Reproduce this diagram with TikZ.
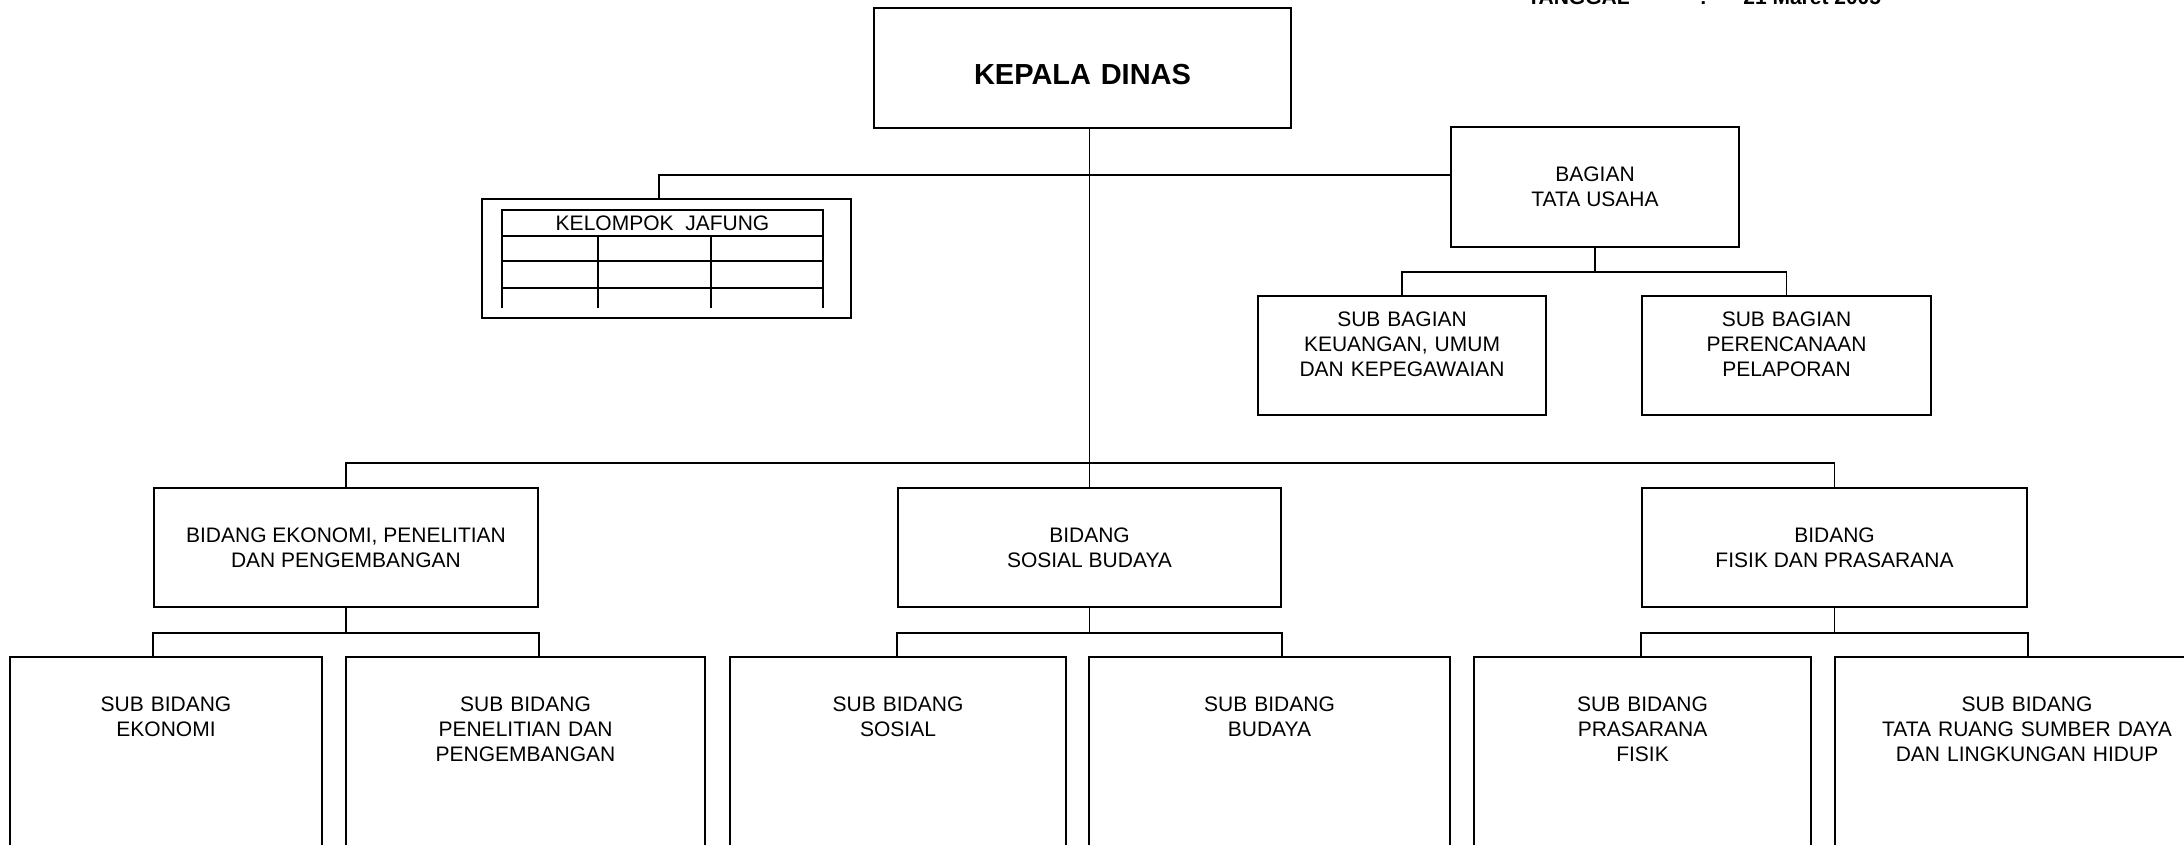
\documentclass[tikz,border=0pt]{standalone}
\usepackage{fontspec}
\setmainfont{Liberation Sans}
\usetikzlibrary{calc}
\tikzset{
  orgBox/.style={draw, line width=1.1pt, align=center, inner sep=2pt, minimum height=2.38cm, font=\fontsize{11.95}{14.2}\selectfont},
  orgTopBox/.style={draw, line width=1.1pt, align=center, anchor=north, inner xsep=0pt, inner ysep=0pt, font=\fontsize{11.95}{14.2}\selectfont},
  orgSubBox/.style={draw, line width=1.1pt, align=center, anchor=north, inner xsep=0pt, inner ysep=0pt, text height=1.1cm, text depth=4cm, font=\fontsize{11.95}{14.2}\selectfont},
  orgLine/.style={line width=1.1pt},
  orgText/.style={inner sep=0pt, font=\fontsize{11.95}{14.2}\selectfont}
}

\begin{document}
\begin{tikzpicture}
      \useasboundingbox (0,0) rectangle (43.68,-16.88);
      \node[orgText, font=\fontsize{11.95}{14.2}\selectfont\bfseries, anchor=base west] (tanggal) at (30.54,-0.08) {\makebox[3.45cm][l]{TANGGAL}:\hspace{0.73cm}21 Maret 2005};

      \node[orgTopBox, font=\fontsize{16.5}{19}\selectfont\bfseries, text width=8.34cm, text height=1.53cm, text depth=0.87cm] (kepala) at (21.65,-0.14) {KEPALA DINAS};
      \node[orgBox, minimum width=5.76cm, minimum height=2.4cm] (bagianTU) at (31.9,-3.74) {BAGIAN\\TATA USAHA};

      \node[orgBox, minimum width=7.38cm] (jafung) at (13.33,-5.17) {};
      \node[orgText] (jafungTitle) at (13.25,-4.46) {KELOMPOK\ \ JAFUNG};
      \draw[orgLine] (10.04,-6.16) |- (16.46,-4.2) -- (16.46,-6.16);
      \foreach \y in {-4.72,-5.22,-5.76}
        \draw[orgLine] (10.04,\y) -- (16.46,\y);
      \foreach \x in {11.96,14.22}
        \draw[orgLine] (\x,-4.72) -- (\x,-6.16);

      \node[orgTopBox, text width=5.76cm, text height=0.61cm, text depth=1.77cm] (subKeuangan) at (28.04,-5.9) {SUB BAGIAN\\KEUANGAN, UMUM\\DAN KEPEGAWAIAN};
      \node[orgTopBox, text width=5.78cm, text height=0.61cm, text depth=1.77cm] (subPerencanaan) at (35.73,-5.9) {SUB BAGIAN\\PERENCANAAN\\PELAPORAN};

      \node[orgBox, minimum width=7.68cm] (bidEkonomi) at (6.92,-10.95) {BIDANG EKONOMI, PENELITIAN\\DAN PENGEMBANGAN};
      \node[orgBox, minimum width=7.66cm] (bidSosial) at (21.79,-10.95) {BIDANG\\SOSIAL BUDAYA};
      \node[orgBox, minimum width=7.70cm] (bidFisik) at (36.69,-10.95) {BIDANG\\FISIK DAN PRASARANA};

      \node[orgSubBox, text width=6.24cm] (subEkonomi) at (3.32,-13.12) {SUB BIDANG\\EKONOMI};
      \node[orgSubBox, text width=7.18cm] (subPenelitian) at (10.51,-13.12) {SUB BIDANG\\PENELITIAN DAN\\PENGEMBANGAN};
      \node[orgSubBox, text width=6.72cm] (subSosial) at (17.96,-13.12) {SUB BIDANG\\SOSIAL};
      \node[orgSubBox, text width=7.22cm] (subBudaya) at (25.39,-13.12) {SUB BIDANG\\BUDAYA};
      \node[orgSubBox, text width=6.74cm] (subPrasarana) at (32.85,-13.12) {SUB BIDANG\\PRASARANA\\FISIK};
      \node[orgSubBox, text width=7.68cm] (subTataRuang) at (40.54,-13.12) {SUB BIDANG\\TATA RUANG SUMBER DAYA\\DAN LINGKUNGAN HIDUP};

      \coordinate (jafungJoint) at (21.82,-3.5);
      \coordinate (bidangJoint) at (21.82,-9.26);
      \draw[orgLine] (kepala.south -| bidSosial.north) -- (bidSosial.north);
      \draw[orgLine] ([xshift=-0.15cm]jafung.north) |- (bagianTU.west |- jafungJoint);
      \draw[orgLine] (bagianTU.south) -- ++(0,-0.48);
      \draw[orgLine] (subKeuangan.north) |- ($(bagianTU.south)+(0,-0.48)$) -| (subPerencanaan.north);
      \draw[orgLine] (bidEkonomi.north) |- (bidangJoint) -| (bidFisik.north);
      \foreach \b/\l/\r in {bidEkonomi/subEkonomi/subPenelitian, bidSosial/subSosial/subBudaya, bidFisik/subPrasarana/subTataRuang}{
        \draw[orgLine] (\b.south) -- ++(0,-0.5);
        \draw[orgLine] (\l.north -| \b.west) |- ($(\b.south)+(0,-0.5)$) -| (\r.north -| \b.east);
      }
    \end{tikzpicture}
\end{document}
